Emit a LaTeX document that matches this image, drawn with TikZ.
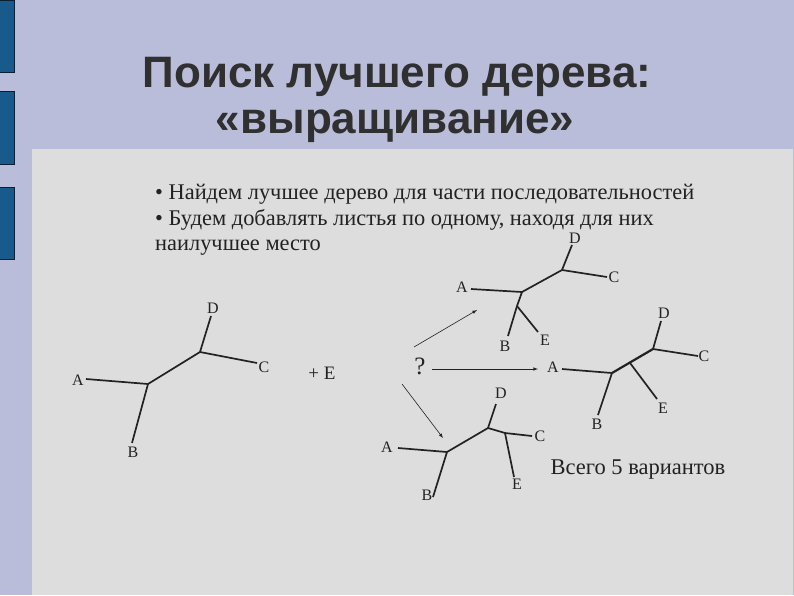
\documentclass[tikz,border=0pt]{standalone}
\usepackage{fontspec}
\setmainfont{Liberation Serif}
\newfontfamily\titleFont{Liberation Sans}
\usetikzlibrary{positioning,arrows}
\definecolor{slideColor}{RGB}{185,189,217}
\definecolor{panelColor}{RGB}{221,221,221}
\definecolor{barColor}{RGB}{24,90,140}
\definecolor{barEdge}{RGB}{12,30,52}
\definecolor{titleColor}{RGB}{48,48,48}
\definecolor{inkColor}{RGB}{34,34,34}
\tikzstyle{slide} = [x = 1pt, y = -1pt]
\tikzstyle{barStyle} = [fill=barColor, draw=barEdge, line width=.8pt]
\tikzstyle{titleText} = [font=\titleFont\bfseries\fontsize{44}{44}\selectfont, color=titleColor, anchor=base, inner sep=0]
\tikzstyle{bodyText} = [font=\fontsize{22.4}{22.4}\selectfont, color=inkColor, anchor=base west, inner sep=0]
\tikzstyle{branchStyle} = [color=inkColor, line width=1.7pt]
\tikzstyle{leafText} = [font=\fontsize{16}{16}\selectfont, color=inkColor, inner sep=0]
\tikzstyle{pointerStyle} = [color=inkColor, line width=.6pt, -latex]
\newcommand{\colourBar}[2]{\filldraw [barStyle] (-1, #1) rectangle (14, #2);}
\newcommand{\leafEdge}[5]{
  \coordinate (#1) at (#3);
  \draw [branchStyle] (#2) -- (#1);
  \node [leafText] (#1Text) at (#4) {#5};
}

\begin{document}
\begin{tikzpicture}[slide]
        \useasboundingbox (0,0) rectangle (794,595);
        \fill [slideColor] (0,0) rectangle (794,595);
        \fill [panelColor] (32,149) rectangle (793,595);
        \colourBar{0}{72}
        \colourBar{91}{164}
        \colourBar{187}{259}

        \node [titleText] (titleOne) at (397,87) {Поиск лучшего дерева:};
        \node [titleText] (titleTwo) at (395,133) {«выращивание»};

        \node [bodyText] (lineOne) at (155,199) {• Найдем лучшее дерево для части последовательностей};
        \node [bodyText] (lineTwo) at (155,225) {• Будем добавлять листья по одному, находя для них};
        \node [bodyText] (lineThree) at (155,250) {наилучшее место};

        % starting tree
        \coordinate (startLeft) at (148,384);
        \coordinate (startRight) at (200,352);
        \draw [branchStyle] (startLeft) -- (startRight);
        \leafEdge{startA}{startLeft}{86,379}{78,380}{A}
        \leafEdge{startB}{startLeft}{132,443}{133,452}{B}
        \leafEdge{startD}{startRight}{211,316}{213,308}{D}
        \leafEdge{startC}{startRight}{257,363}{264,367}{C}
        \node [leafText, font=\fontsize{19}{19}\selectfont] (plusE) at (322,373) {+ E};

        % E on branch B
        \coordinate (upperLeft) at (522,292);
        \coordinate (upperRight) at (562,270);
        \coordinate (upperJoin) at (517,306);
        \draw [branchStyle] (upperLeft) -- (upperRight);
        \leafEdge{upperA}{upperLeft}{471,289}{462,287}{A}
        \draw [branchStyle] (upperLeft) -- (upperJoin);
        \leafEdge{upperB}{upperJoin}{508,336}{505,346}{B}
        \leafEdge{upperE}{upperJoin}{538,332}{545,340}{E}
        \leafEdge{upperD}{upperRight}{572,245}{575,238}{D}
        \leafEdge{upperC}{upperRight}{607,277}{614,277}{C}

        % E on the inner branch
        \coordinate (middleLeft) at (612,373);
        \coordinate (middleRight) at (653,349);
        \coordinate (middleJoin) at (630,363);
        \draw [branchStyle, line width=2.2pt] (middleLeft) -- (middleRight);
        \leafEdge{middleA}{middleLeft}{562,369}{553,367}{A}
        \leafEdge{middleB}{middleLeft}{598,415}{597,424}{B}
        \leafEdge{middleE}{middleJoin}{657,399}{663,408}{E}
        \leafEdge{middleD}{middleRight}{661,321}{664,313}{D}
        \leafEdge{middleC}{middleRight}{698,356}{704,356}{C}

        % E on branch C
        \coordinate (lowerLeft) at (447,452);
        \coordinate (lowerRight) at (488,428);
        \coordinate (lowerJoin) at (505,433);
        \draw [branchStyle] (lowerLeft) -- (lowerRight);
        \leafEdge{lowerA}{lowerLeft}{398,448}{387,447}{A}
        \leafEdge{lowerB}{lowerLeft}{433,497}{427,495}{B}
        \leafEdge{lowerD}{lowerRight}{496,404}{501,393}{D}
        \draw [branchStyle] (lowerRight) -- (lowerJoin);
        \leafEdge{lowerC}{lowerJoin}{532,436}{540,436}{C}
        \leafEdge{lowerE}{lowerJoin}{514,477}{517,484}{E}

        % choices
        \node [leafText, font=\fontsize{25}{25}\selectfont] (question) at (420,366) {?};
        \coordinate (toUpper) at (477,310);
        \coordinate (toMiddle) at (538,369);
        \coordinate (toLower) at (443,438);
        \draw [pointerStyle] (414,347) -- (toUpper);
        \draw [pointerStyle] (question.east) ++(6,3) -- (toMiddle);
        \draw [pointerStyle] (402,384) -- (toLower);

        \node [leafText, font=\fontsize{22.5}{22.5}\selectfont] (countNote) at (638,470) {Всего 5 вариантов};
      \end{tikzpicture}
\end{document}
